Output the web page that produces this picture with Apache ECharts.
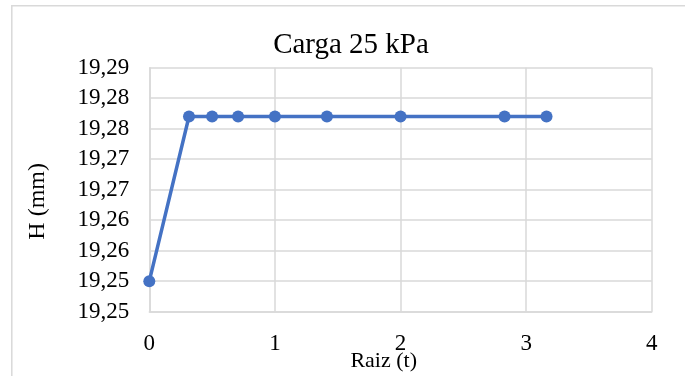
<!DOCTYPE html>
<html>
<head>
<meta charset="utf-8">
<script src="https://cdn.jsdelivr.net/npm/echarts@6/dist/echarts.min.js"></script>
<style>
  html, body { margin: 0; padding: 0; background: #fff; }
  #chart { width: 685px; height: 376px; }
</style>
</head>
<body>
<div id="chart"></div>
<script>
// Square root of elapsed time and measured specimen height
const raizT = [0, 0.316, 0.5, 0.707, 1, 1.414, 2, 2.828, 3.162];
const alturaH = [19.250, 19.277, 19.277, 19.277, 19.277, 19.277, 19.277, 19.277, 19.277];

// Vertical axis range and its tick labels (two decimals, comma separator)
const yMin = 19.245;
const yMax = 19.285;
const yStep = 0.005;
const yTickLabels = ['19,25', '19,25', '19,26', '19,26', '19,27', '19,27', '19,28', '19,28', '19,29'];

const xTickLabels = ['0', '1', '2', '3', '4'];

const serif = '"Liberation Serif", "Times New Roman", serif';
const gridColor = '#d9d9d9';

const chart = echarts.init(document.getElementById('chart'), null, { renderer: 'canvas' });

chart.setOption({
  animation: false,
  backgroundColor: '#fff',
  title: {
    text: 'Carga 25 kPa',
    left: 346,
    textAlign: 'center',
    top: 26,
    textStyle: { fontFamily: serif, fontSize: 29, fontWeight: 'normal', color: '#000' }
  },
  grid: { left: 149.3, right: 33.2, top: 67.7, bottom: 64.3, containLabel: false },
  xAxis: {
    type: 'value',
    min: 0,
    max: 4,
    interval: 1,
    axisLine: { show: true, lineStyle: { color: gridColor, width: 1.5 } },
    axisTick: { show: false },
    splitLine: { show: true, lineStyle: { color: gridColor, width: 1.5 } },
    axisLabel: {
      margin: 21,
      fontFamily: serif,
      fontSize: 23,
      color: '#000',
      formatter: v => xTickLabels[Math.round(v)]
    }
  },
  yAxis: {
    type: 'value',
    min: yMin,
    max: yMax,
    interval: yStep,
    axisLine: { show: true, lineStyle: { color: gridColor, width: 1.5 } },
    axisTick: { show: false },
    splitLine: { show: true, lineStyle: { color: gridColor, width: 1.5 } },
    axisLabel: {
      margin: 20,
      fontFamily: serif,
      fontSize: 23,
      color: '#000',
      formatter: v => yTickLabels[Math.round((v - yMin) / yStep)]
    }
  },
  graphic: [
    {
      type: 'rect',
      silent: true,
      shape: { x: 11.8, y: 5.8, width: 700, height: 400 },
      style: { fill: 'none', stroke: gridColor, lineWidth: 1.5 }
    },
    {
      type: 'text',
      x: 383.7,
      y: 361,
      style: {
        text: 'Raiz (t)',
        font: '22px ' + serif,
        fill: '#000',
        textAlign: 'center',
        textVerticalAlign: 'middle'
      }
    },
    {
      type: 'text',
      x: 38,
      y: 201.3,
      rotation: Math.PI / 2,
      style: {
        text: 'H (mm)',
        font: '24px ' + serif,
        fill: '#000',
        textAlign: 'center',
        textVerticalAlign: 'middle'
      }
    }
  ],
  series: [{
    type: 'line',
    data: raizT.map((x, i) => [x, alturaH[i]]),
    smooth: false,
    symbol: 'circle',
    symbolSize: 12,
    showSymbol: true,
    lineStyle: { color: '#4472C4', width: 3.5 },
    itemStyle: { color: '#4472C4' }
  }]
});
</script>
</body>
</html>
